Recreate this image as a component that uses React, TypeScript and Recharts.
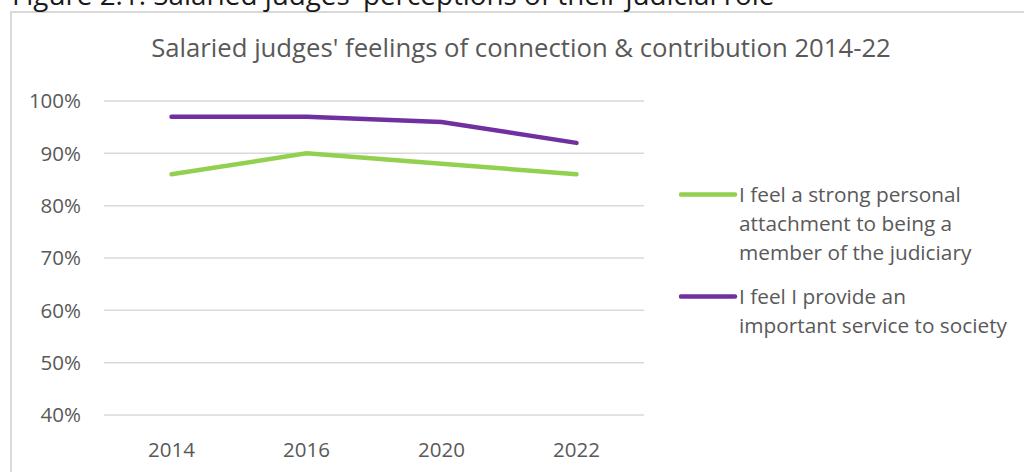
import React from "react";
import { LineChart, Line, XAxis, YAxis, CartesianGrid, Legend } from "recharts";

const years = ["2014", "2016", "2020", "2022"];
const attachment = [86, 90, 88, 86];
const service = [97, 97, 96, 92];
const yTicks = [40, 50, 60, 70, 80, 90, 100];
const seriesNames = [
  "I feel a strong personal attachment to being a member of the judiciary",
  "I feel I provide an important service to society",
];
const legendLines = [
  ["I feel a strong personal", "attachment to being a", "member of the judiciary"],
  ["I feel I provide an", "important service to society"],
];
const colors = ["#92D050", "#7030A0"];
const captionText = "Figure 2.1: Salaried judges' perceptions of their judicial role";
const titleText = "Salaried judges' feelings of connection & contribution 2014-22";

const data = years.map((y, i) => ({ year: y, attachment: attachment[i], service: service[i] }));

const FONT = "'Open Sans', sans-serif";
const GREY = "#595959";

const renderLegend = (props: any) => {
  const payload = [...(props.payload || [])].sort(
    (a: any, b: any) => seriesNames.indexOf(a.value) - seriesNames.indexOf(b.value)
  );
  return (
    <div style={{ paddingLeft: 35, fontFamily: FONT, fontSize: 20.8, color: GREY }}>
      {payload.map((entry: any, i: number) => {
        const idx = seriesNames.indexOf(entry.value);
        const lines = legendLines[idx >= 0 ? idx : i];
        return (
          <div key={i} style={{ display: "flex", alignItems: "flex-start", marginBottom: 15 }}>
            <svg width={60} height={29} style={{ flex: "none" }}>
              <line x1={2} y1={14.5} x2={56} y2={14.5} stroke={entry.color} strokeWidth={4.5} strokeLinecap="round" />
            </svg>
            <div>
              {lines.map((l: string, k: number) => (
                <div key={k} style={{ height: 29, lineHeight: "29px", whiteSpace: "nowrap" }}>{l}</div>
              ))}
            </div>
          </div>
        );
      })}
    </div>
  );
};

export default function App() {
  return (
    <div style={{ position: "fixed", left: 0, top: 0, width: 1024, height: 472, overflow: "hidden", background: "#fff" }}>
      <div
        style={{
          position: "absolute",
          left: 10,
          top: 11,
          width: 1040,
          height: 520,
          border: "2px solid #D9D9D9",
          boxSizing: "border-box",
        }}
      />
      <svg width={1024} height={80} style={{ position: "absolute", left: 0, top: 0 }}>
        <text x={12} y={5} fontFamily={FONT} fontSize={27.8} fill="#1a1a1a">
          {captionText}
        </text>
        <text x={521} y={57} textAnchor="middle" fontFamily={FONT} fontSize={25.7} fill={GREY}>
          {titleText}
        </text>
      </svg>
      <div style={{ position: "absolute", left: 0, top: 0 }}>
        <LineChart width={1024} height={472} data={data} margin={{ top: 101, right: 10, bottom: 7, left: 10 }}>
          <CartesianGrid horizontal vertical={false} stroke="#D9D9D9" strokeWidth={1.5} />
          <XAxis
            dataKey="year"
            axisLine={false}
            tickLine={false}
            height={50}
            tickMargin={21}
            padding={{ left: 67.5, right: 67.5 }}
            tick={{ fill: GREY, fontSize: 20.5, fontFamily: FONT }}
          />
          <YAxis
            domain={[40, 100]}
            ticks={yTicks}
            width={94}
            axisLine={false}
            tickLine={false}
            tickMargin={17}
            tickFormatter={(v: number) => `${v}%`}
            tick={{ fill: GREY, fontSize: 20.5, fontFamily: FONT }}
          />
          <Legend
            layout="vertical"
            align="right"
            verticalAlign="middle"
            width={370}
            content={renderLegend}
            wrapperStyle={{ top: 180 }}
          />
          <Line
            type="linear"
            dataKey="attachment"
            name={seriesNames[0]}
            stroke={colors[0]}
            strokeWidth={4.5}
            strokeLinecap="round"
            dot={false}
            activeDot={false}
            isAnimationActive={false}
          />
          <Line
            type="linear"
            dataKey="service"
            name={seriesNames[1]}
            stroke={colors[1]}
            strokeWidth={4.5}
            strokeLinecap="round"
            dot={false}
            activeDot={false}
            isAnimationActive={false}
          />
        </LineChart>
      </div>
    </div>
  );
}
